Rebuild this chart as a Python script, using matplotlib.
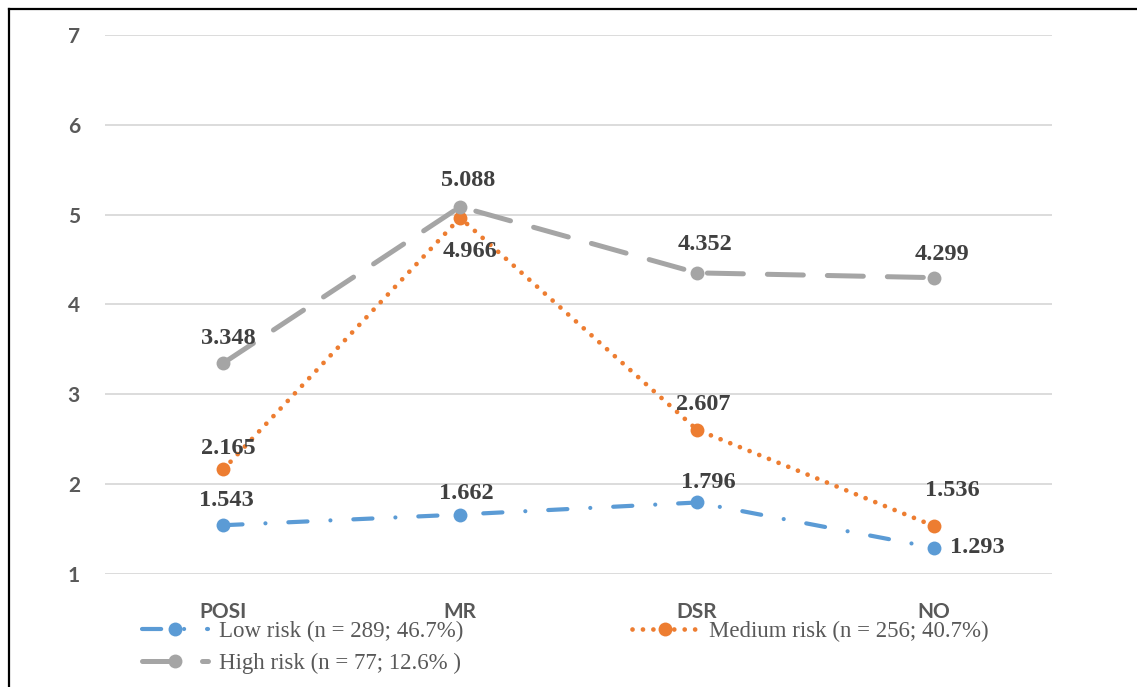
import matplotlib
matplotlib.use('Agg')
import matplotlib.pyplot as plt
from matplotlib.lines import Line2D


# data
categories = ['POSI', 'MR', 'DSR', 'NO']
low_risk = [1.543, 1.662, 1.796, 1.293]
medium_risk = [2.165, 4.966, 2.607, 1.536]
high_risk = [3.348, 5.088, 4.352, 4.299]
names = ['Low risk (n = 289; 46.7%)',
         'Medium risk (n = 256; 40.7%)',
         'High risk (n = 77; 12.6% )']

# where each value label sits relative to its point (pixels)
low_offsets = [(3, 25), (6, 21), (11, 20), (44, 0)]
medium_offsets = [(5, 21), (10, -34), (6, 25), (19, 35)]
high_offsets = [(5, 25), (8, 26), (8, 28), (8, 23)]


def main():
    fig = plt.figure(figsize=(11.37, 6.87), dpi=100)
    ax = fig.add_axes([105 / 1137, 113 / 687, 947 / 1137, 539 / 687])

    x = list(range(len(categories)))
    styles = [
        (low_risk, '#5B9BD5', 3.0, (0, (4.6, 5.5, 0.01, 5.5)), low_offsets),
        (medium_risk, '#ED7D31', 3.4, (0, (0.01, 2.2)), medium_offsets),
        (high_risk, '#A5A5A5', 3.6, (0, (7.2, 4.8)), high_offsets),
    ]
    lines = []
    for i, (vals, col, lw, ls, offs) in enumerate(styles):
        ln, = ax.plot(x, vals, color=col, lw=lw, linestyle=ls,
                      dash_capstyle='round', marker='o', markersize=10,
                      markeredgewidth=0, label=names[i], zorder=3 + i)
        lines.append(ln)
        for xi, v, (dx, dy) in zip(x, vals, offs):
            ax.annotate(f'{v:.3f}', (xi, v), xytext=(dx, dy),
                        textcoords='offset pixels', ha='center', va='center',
                        fontsize=17.5, fontweight='bold', color='#404040',
                        family='Liberation Serif', zorder=10)

    ax.set_xlim(-0.5, 3.5)
    ax.set_ylim(1, 7)
    ax.set_yticks(range(1, 8))
    ax.set_xticks(x)
    ax.set_xticklabels(categories)
    for s in ax.spines.values():
        s.set_visible(False)
    ax.grid(axis='y', color='#D9D9D9', lw=1.3)
    ax.set_axisbelow(True)
    ax.tick_params(length=0)
    ax.tick_params(axis='y', pad=18)
    ax.tick_params(axis='x', pad=20)
    for lab in ax.get_xticklabels() + ax.get_yticklabels():
        lab.set_family('Lato')
        lab.set_fontweight('bold')
        lab.set_fontsize(15)
        lab.set_color('#595959')

    fig.legend(handles=[lines[0], lines[2], lines[1]],
               labels=[names[0], names[2], names[1]],
               ncol=2, loc='upper left', bbox_to_anchor=(142 / 1137, 1 - 621 / 687),
               frameon=False, borderpad=0, borderaxespad=0,
               handlelength=2.88, handletextpad=0.48, labelspacing=0.46,
               columnspacing=7.37, prop={'family': 'Liberation Serif', 'size': 16.5},
               labelcolor='#595959')

    # left and top border of the cropped frame
    fig.add_artist(Line2D([8.5 / 1137, 8.5 / 1137], [0, 1 - 8.5 / 687], color='black', lw=1.6))
    fig.add_artist(Line2D([8.5 / 1137, 1], [1 - 8.5 / 687, 1 - 8.5 / 687], color='black', lw=1.6))

    fig.savefig('out.png', dpi=100)


if __name__ == '__main__':
    main()
